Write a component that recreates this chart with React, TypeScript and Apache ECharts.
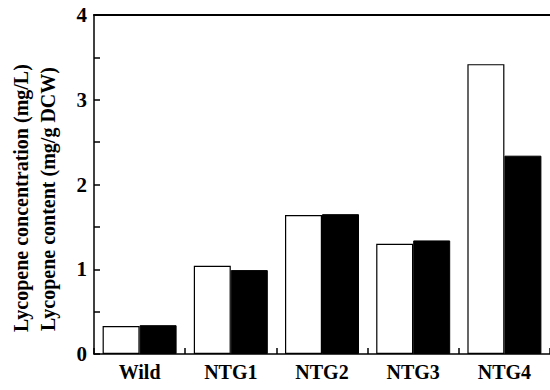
import React, { useEffect, useRef } from "react";
import * as echarts from "echarts";

const categories = ["Wild", "NTG1", "NTG2", "NTG3", "NTG4"];
const concentration = [0.33, 1.04, 1.64, 1.30, 3.42];
const content = [0.34, 0.99, 1.65, 1.34, 2.34];
const yTicks = [0, 1, 2, 3, 4];

const FONT = "Liberation Serif";

export default function App() {
  const ref = useRef<HTMLDivElement>(null);
  useEffect(() => {
    if (!ref.current) return;
    const chart = echarts.init(ref.current, undefined, { renderer: "svg" });
    chart.setOption({
      animation: false,
      backgroundColor: "#ffffff",
      grid: { left: 94, right: -4, top: 15, bottom: 36 },
      xAxis: [
        {
          type: "category",
          data: categories,
          axisLine: { show: true, lineStyle: { color: "#000", width: 1.5 } },
          axisTick: { show: true, inside: true, length: 6, lineStyle: { color: "#000", width: 1.5 } },
          axisLabel: {
            color: "#000",
            fontFamily: FONT,
            fontWeight: "bold",
            fontSize: 20,
            margin: 8,
          },
        },
        {
          type: "category",
          data: categories,
          position: "top",
          axisLine: { show: true, lineStyle: { color: "#000", width: 2 } },
          axisTick: { show: false },
          axisLabel: { show: false },
        },
      ],
      yAxis: {
        type: "value",
        min: 0,
        max: 4,
        interval: 0.5,
        axisLine: { show: true, lineStyle: { color: "#000", width: 1.5 } },
        axisTick: { show: true, inside: true, length: 6, lineStyle: { color: "#000", width: 1.5 } },
        splitLine: { show: false },
        axisLabel: {
          color: "#000",
          fontFamily: FONT,
          fontWeight: "bold",
          fontSize: 21,
          margin: 7,
          formatter: (v: number) => (yTicks.includes(v) ? String(v) : ""),
        },
      },
      graphic: [
        {
          type: "text",
          x: 21,
          y: 198,
          rotation: Math.PI / 2,
          style: {
            text: "Lycopene concentration (mg/L)",
            fontFamily: FONT,
            fontWeight: "bold",
            fontSize: 20,
            fill: "#000",
            textAlign: "center",
            textVerticalAlign: "middle",
          },
        },
        {
          type: "text",
          x: 48,
          y: 199,
          rotation: Math.PI / 2,
          style: {
            text: "Lycopene content (mg/g DCW)",
            fontFamily: FONT,
            fontWeight: "bold",
            fontSize: 20,
            fill: "#000",
            textAlign: "center",
            textVerticalAlign: "middle",
          },
        },
      ],
      series: [
        {
          type: "bar",
          data: concentration,
          barWidth: 37,
          barGap: "0%",
          itemStyle: { color: "#ffffff", borderColor: "#000", borderWidth: 1.2 },
        },
        {
          type: "bar",
          data: content,
          barWidth: 37,
          barGap: "0%",
          itemStyle: { color: "#000000", borderColor: "#000", borderWidth: 1 },
        },
      ],
    });
    return () => chart.dispose();
  }, []);
  return (
    <div
      ref={ref}
      style={{ position: "absolute", left: 0, top: 0, width: 550, height: 390 }}
    />
  );
}
